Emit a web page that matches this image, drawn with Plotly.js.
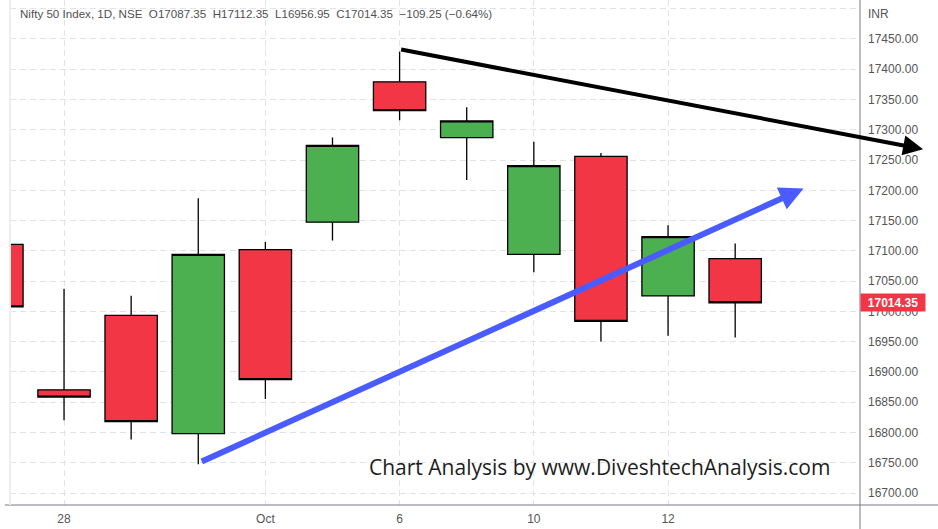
<!DOCTYPE html>
<html>
<head>
<meta charset="utf-8">
<script src="https://cdn.plot.ly/plotly-3.0.1.min.js"></script>
<style>html,body{margin:0;padding:0;background:#fff;}#chart{width:938px;height:529px;}</style>
</head>
<body>
<div id="chart"></div>
<script>
// Nifty 50 daily candles, 27 Sep 2022 - 13 Oct 2022
const dates = ["2022-09-27","2022-09-28","2022-09-29","2022-09-30","2022-10-03","2022-10-04","2022-10-06","2022-10-07","2022-10-10","2022-10-11","2022-10-12","2022-10-13"];
const opens  = [17110.90, 16870.55, 16993.60, 16798.05, 17102.10, 17147.45, 17379.25, 17287.20, 17094.35, 17256.05, 17025.55, 17087.35];
const highs  = [17176.45, 17037.60, 17026.05, 17187.10, 17114.65, 17287.30, 17428.80, 17337.35, 17280.15, 17261.80, 17142.35, 17112.35];
const lows   = [16942.35, 16820.40, 16788.60, 16747.70, 16855.55, 17117.30, 17315.65, 17216.95, 17064.70, 16950.30, 16960.05, 16956.95];
const closes = [17007.40, 16858.60, 16818.10, 17094.35, 16887.35, 17274.30, 17331.80, 17314.65, 17241.00, 16983.55, 17123.60, 17014.35];

const xTickVals = ["2022-09-28","2022-10-03","2022-10-06","2022-10-10","2022-10-12"];
const xTickText = ["28","Oct","6","10","12"];
const yTickVals = [16700,16750,16800,16850,16900,16950,17000,17050,17100,17150,17200,17250,17300,17350,17400,17450,17500];
const yTickText = ["16700.00","16750.00","16800.00","16850.00","16900.00","16950.00","17000.00","17050.00","17100.00","17150.00","17200.00","17250.00","17300.00","17350.00","17400.00","17450.00",""];

// trend lines drawn on the chart: [tail index, tail price, head index, head price]
const resistanceLine = [6.0, 17433, 13.80, 17268];
const supportLine = [3.03, 16751, 12.02, 17203];

const headerText = "Nifty 50 Index, 1D, NSE  O17087.35  H17112.35  L16956.95  C17014.35  \u2212109.25 (\u22120.64%)";
const lastPrice = 17014.35;
const watermark = "Chart Analysis by www.DiveshtechAnalysis.com";

const trace = {
  type: 'candlestick',
  x: dates, open: opens, high: highs, low: lows, close: closes,
  increasing: {fillcolor: '#4CAF50', line: {color: '#000000', width: 1.3}},
  decreasing: {fillcolor: '#F23645', line: {color: '#000000', width: 1.3}},
  whiskerwidth: 0,
  showlegend: false,
  hoverinfo: 'skip'
};

const axFont = {family: 'Liberation Sans, Arial, sans-serif', size: 12, color: '#555555'};

const layout = {
  width: 938, height: 529,
  margin: {l: 10, r: 78, t: 0, b: 24},
  paper_bgcolor: '#ffffff', plot_bgcolor: '#ffffff',
  showlegend: false,
  boxgap: 0.22, boxgroupgap: 0,
  xaxis: {
    type: 'category',
    categoryorder: 'array', categoryarray: dates,
    range: [0.195, 12.86],
    rangeslider: {visible: false},
    tickmode: 'array', tickvals: xTickVals, ticktext: xTickText,
    showgrid: true, gridcolor: '#e0e3eb', griddash: '6px,4px', gridwidth: 1,
    showline: false, zeroline: false, ticks: '',
    ticklabelstandoff: 5,
    tickfont: axFont, fixedrange: true
  },
  yaxis: {
    side: 'right',
    range: [16680.3, 17514.4],
    tickmode: 'array', tickvals: yTickVals, ticktext: yTickText,
    showgrid: true, gridcolor: '#e0e3eb', griddash: '6px,4px', gridwidth: 1,
    showline: false, zeroline: false, ticks: '',
    ticklabelstandoff: 7,
    tickfont: axFont, fixedrange: true
  },
  shapes: [
    {type: 'line', xref: 'paper', yref: 'paper', x0: -0.006, x1: 1.1, y0: 0, y1: 0, line: {color: '#787b86', width: 1}},
    {type: 'line', xref: 'paper', yref: 'paper', x0: 1, x1: 1, y0: -0.06, y1: 1.0, line: {color: '#787b86', width: 1}},
    {type: 'line', xref: 'paper', yref: 'paper', x0: 0, x1: 0, y0: 0, y1: 1.0, line: {color: '#eeeeee', width: 2}}
  ],
  annotations: [
    {xref: 'x', yref: 'y', axref: 'x', ayref: 'y',
     x: resistanceLine[2], y: resistanceLine[3], ax: resistanceLine[0], ay: resistanceLine[1],
     text: '', showarrow: true, arrowhead: 2, arrowsize: 1.0, arrowwidth: 4, arrowcolor: '#000000', standoff: 0},
    {xref: 'x', yref: 'y', axref: 'x', ayref: 'y',
     x: supportLine[2], y: supportLine[3], ax: supportLine[0], ay: supportLine[1],
     text: '', showarrow: true, arrowhead: 2, arrowsize: 0.8, arrowwidth: 6, arrowcolor: '#4A5CFF', standoff: 0},
    {xref: 'paper', yref: 'paper', x: 0, y: 1, xanchor: 'left', yanchor: 'top', xshift: 8, yshift: -5,
     text: headerText, showarrow: false, font: {family: 'Liberation Sans, Arial, sans-serif', size: 11.6, color: '#505050'}},
    {xref: 'paper', yref: 'paper', x: 1, y: 1, xanchor: 'left', yanchor: 'top', xshift: 6, yshift: -5,
     text: 'INR', showarrow: false, font: axFont},
    {xref: 'paper', yref: 'y', x: 1, y: lastPrice, xanchor: 'left', yanchor: 'middle', xshift: 0,
     text: '<b>' + lastPrice.toFixed(2) + '</b>', showarrow: false, bgcolor: '#F23645', borderpad: 2, width: 60, height: 13,
     font: {family: 'Liberation Sans, Arial, sans-serif', size: 12, color: '#ffffff'}},
    {xref: 'paper', yref: 'paper', x: 0.694, y: 0.0752, xanchor: 'center', yanchor: 'middle',
     text: watermark, showarrow: false, font: {family: 'Open Sans, sans-serif', size: 21, color: '#1e1e1e'}}
  ]
};

Plotly.newPlot('chart', [trace], layout, {displayModeBar: false, staticPlot: true});
</script>
</body>
</html>
